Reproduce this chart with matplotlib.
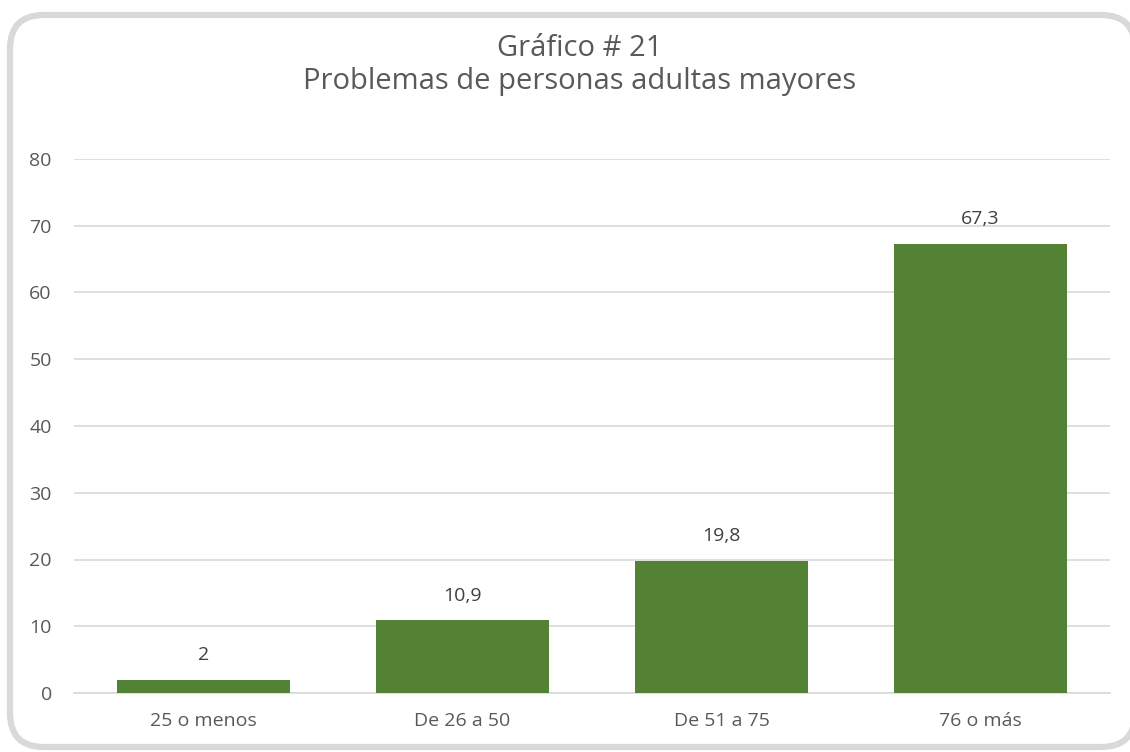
import matplotlib.pyplot as plt
from matplotlib.patches import FancyBboxPatch

categories = ['25 o menos', 'De 26 a 50', 'De 51 a 75', '76 o más']
values = [2, 10.9, 19.8, 67.3]
labels = ['2', '10,9', '19,8', '67,3']

plt.rcParams['font.family'] = ['Open Sans', 'DejaVu Sans']
text_color = '#595959'

fig = plt.figure(figsize=(11.3, 7.52), dpi=100)
fig.patch.set_facecolor('white')

# rounded light grey frame
frame = FancyBboxPatch((10 / 1130, 5 / 752), 1125 / 1130, 732 / 752,
                       boxstyle='round,pad=0,rounding_size=0.03',
                       transform=fig.transFigure, facecolor='white',
                       edgecolor='#D9D9D9', linewidth=4.5, zorder=-5,
                       mutation_aspect=1130 / 752)
fig.patches.append(frame)

ax = fig.add_axes([74 / 1130, 1 - 693 / 752, (1110 - 74) / 1130, (693 - 159) / 752])
ax.set_facecolor('none')
ax.set_zorder(2)

x = range(len(categories))
bars = ax.bar(x, values, width=0.668, color='#548235', zorder=3)

for xi, v, lab in zip(x, values, labels):
    ax.text(xi, v + 2.3, lab, ha='center', va='bottom', fontsize=14, color='#404040')

ax.set_xlim(-0.5, 3.5)
ax.set_ylim(0, 80)
ax.set_yticks(range(0, 81, 10))
ax.set_xticks(list(x))
ax.set_xticklabels(categories)
ax.grid(axis='y', color='#D9D9D9', linewidth=1.2, zorder=0)
for s in ax.spines.values():
    s.set_visible(False)
ax.spines['bottom'].set_visible(True)
ax.spines['bottom'].set_color('#D9D9D9')
ax.spines['bottom'].set_linewidth(1.2)
ax.tick_params(axis='both', length=0, labelsize=14, colors=text_color)
ax.tick_params(axis='y', pad=16)
ax.tick_params(axis='x', pad=14)

fig.text(0.513, 1 - 49 / 752, 'Gráfico # 21', ha='center', va='center', fontsize=21, color=text_color)
fig.text(0.513, 1 - 82 / 752, 'Problemas de personas adultas mayores', ha='center', va='center',
         fontsize=21, color=text_color)

fig.savefig('out.png', dpi=100)
